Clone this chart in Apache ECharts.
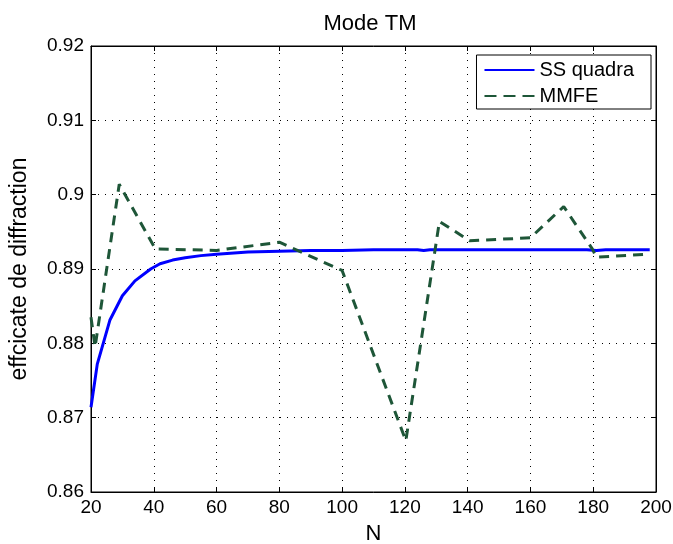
<!DOCTYPE html>
<html><head><meta charset="utf-8">
<script src="https://cdn.jsdelivr.net/npm/echarts@6/dist/echarts.min.js"></script>
<style>html,body{margin:0;padding:0;background:#fff}#c{width:673px;height:544px}</style>
</head><body><div id="c"></div>
<script>
const xTicks = [20,40,60,80,100,120,140,160,180,200];
const yTicks = [0.86,0.87,0.88,0.89,0.9,0.91,0.92];
const ssN =   [20,22,26,30,34,39,42,46,50,55,60,70,80,90,100,110,120,124,126,128,140,160,178,181,184,198];
const ssVal = [0.8714,0.8772,0.8831,0.8864,0.8884,0.8900,0.8907,0.8912,0.8915,0.8918,0.8920,0.8923,0.8924,0.8925,0.8925,0.8926,0.8926,0.8926,0.89248,0.8926,0.8926,0.8926,0.8926,0.89248,0.8926,0.8926];
const mmN =   [20,21.3,29,40.5,60,80,100,120.3,131,140.6,160,170.6,179.7,181,197.8];
const mmVal = [0.8835,0.8795,0.9014,0.8927,0.8925,0.8936,0.8898,0.8669,0.8964,0.8938,0.8942,0.8984,0.8927,0.8916,0.8920];

const font = 'Liberation Sans, Arial, Helvetica, sans-serif';
const chart = echarts.init(document.getElementById('c'));
const lbl = {color:'#000', fontFamily:font, fontSize:19};
function zip(a,b){return a.map((v,i)=>[v,b[i]]);}
const dot = {color:'#000', type:[1,6], width:1};
chart.setOption({
  animation:false,
  title:{text:'Mode TM', left:365, top:8, textAlign:'center', textStyle:{fontFamily:font, fontSize:22, fontWeight:'normal', color:'#000'}},
  grid:{left:91, right:17, top:46, bottom:52, show:true, borderColor:'#000', borderWidth:1, outerBoundsMode:'none', containLabel:false},
  legend:{show:true, right:22, top:55, orient:'vertical', backgroundColor:'#fff', borderColor:'#000', borderWidth:1, padding:[5,17,3,8], itemGap:6, itemWidth:50, itemHeight:21,
    textStyle:{fontFamily:font, fontSize:20, color:'#000'},
    data:[{name:'SS quadra', icon:'path://M0,9.5 L50,9.5 L50,11.5 L0,11.5 Z'},{name:'MMFE', icon:'path://M0,9.5 L12,9.5 L12,11.5 L0,11.5 Z M19,9.5 L31,9.5 L31,11.5 L19,11.5 Z M38,9.5 L50,9.5 L50,11.5 L38,11.5 Z'}]},
  xAxis:[{type:'value', min:20, max:200, interval:20, name:'N', nameLocation:'middle', nameGap:31, nameTextStyle:{fontFamily:font, fontSize:22, color:'#000'},
    axisLine:{show:true, onZero:false, lineStyle:{color:'#000'}}, axisTick:{show:true, inside:true, length:5, lineStyle:{color:'#000'}},
    axisLabel:Object.assign({margin:6, formatter:v=>String(v)}, lbl),
    splitLine:{show:true, lineStyle:dot}},
    {type:'value', min:20, max:200, interval:20, position:'top', axisLine:{show:true, onZero:false, lineStyle:{color:'#000'}}, axisTick:{show:true, inside:true, length:5, lineStyle:{color:'#000'}}, axisLabel:{show:false}, splitLine:{show:false}}],
  yAxis:[{type:'value', min:0.86, max:0.92, interval:0.01, name:'effcicate de diffraction', nameLocation:'middle', nameGap:60, nameTextStyle:{fontFamily:font, fontSize:23, color:'#000'},
    axisLine:{show:true, onZero:false, lineStyle:{color:'#000'}}, axisTick:{show:true, inside:true, length:5, lineStyle:{color:'#000'}},
    axisLabel:Object.assign({margin:7, formatter:v=>String(parseFloat(v.toFixed(2)))}, lbl),
    splitLine:{show:true, lineStyle:dot}},
    {type:'value', min:0.86, max:0.92, interval:0.01, position:'right', axisLine:{show:true, onZero:false, lineStyle:{color:'#000'}}, axisTick:{show:true, inside:true, length:5, lineStyle:{color:'#000'}}, axisLabel:{show:false}, splitLine:{show:false}}],
  series:[
    {name:'SS quadra', type:'line', data:zip(ssN, ssVal), showSymbol:false, symbol:'none', itemStyle:{color:'#0000ff'}, lineStyle:{color:'#0000ff', width:3}},
    {name:'MMFE', type:'line', data:zip(mmN, mmVal), showSymbol:false, symbol:'none', itemStyle:{color:'#1e5638'}, lineStyle:{color:'#1e5638', width:3, type:[10,7]}}
  ]
});
</script></body></html>
